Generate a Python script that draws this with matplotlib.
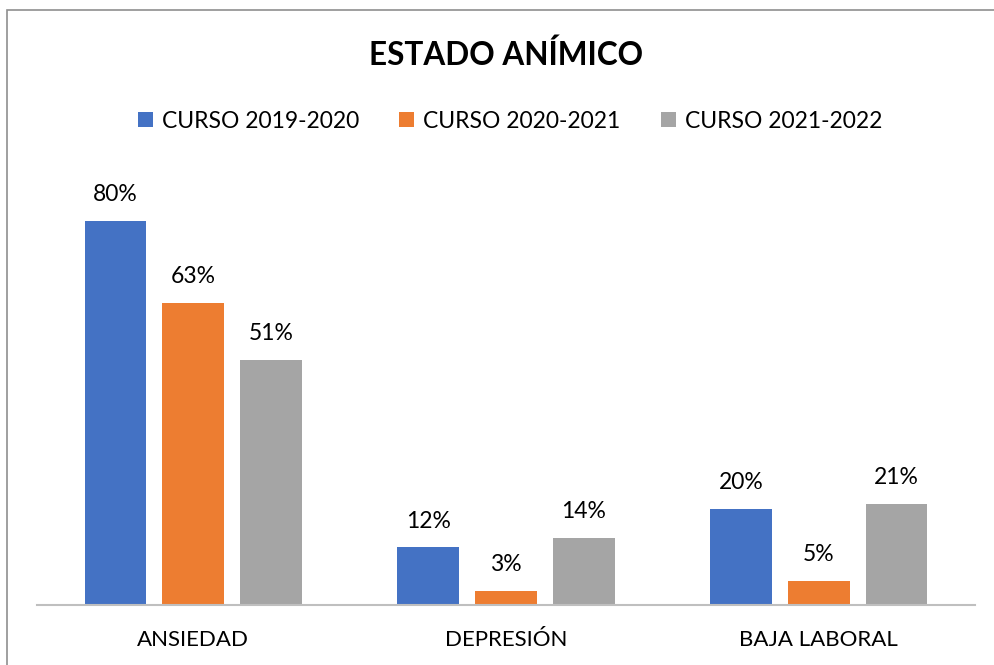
import numpy as np
import matplotlib.pyplot as plt
from matplotlib.patches import Rectangle

categories = ["ANSIEDAD", "DEPRESIÓN", "BAJA LABORAL"]
series_names = ["CURSO 2019-2020", "CURSO 2020-2021", "CURSO 2021-2022"]
curso_2019 = [80, 12, 20]
curso_2020 = [63, 3, 5]
curso_2021 = [51, 14, 21]
colors = ["#4472C4", "#ED7D31", "#A5A5A5"]

plt.rcParams['font.family'] = ['Lato', 'DejaVu Sans']

fig = plt.figure(figsize=(9.95, 6.65), dpi=100)

# chart frame (cut off at right/bottom like the screenshot)
fig.patches.append(Rectangle((7 / 995, -0.05), 1.0, 1 - 10 / 665 + 0.05,
                             transform=fig.transFigure, fill=False,
                             edgecolor="#8f8f8f", linewidth=1.2))

ax = fig.add_axes([37 / 995, 60 / 665, 938 / 995, 432 / 665])

x = np.arange(len(categories))
width = 0.198
step = 0.249
all_series = [curso_2019, curso_2020, curso_2021]
for i, (vals, name, c) in enumerate(zip(all_series, series_names, colors)):
    bars = ax.bar(x + (i - 1) * step, vals, width, color=c, label=name)
    for b, v in zip(bars, vals):
        ax.annotate(f"{v}%", (b.get_x() + b.get_width() / 2, v),
                    xytext=(0, 19), textcoords="offset points",
                    ha="center", va="center", fontsize=16.5, color="#000000")

ax.set_xlim(-0.5, 2.5)
ax.set_ylim(0, 90)
ax.set_yticks([])
ax.set_xticks(x)
ax.set_xticklabels(categories, fontsize=16)
ax.tick_params(axis="x", length=0, pad=18)
for s in ["top", "right", "left"]:
    ax.spines[s].set_visible(False)
ax.spines["bottom"].set_color("#bfbfbf")
ax.spines["bottom"].set_linewidth(1.5)

fig.text(506 / 995, 1 - 55 / 665, "ESTADO ANÍMICO", ha="center", va="center",
         fontsize=22.7, fontweight="bold")

fig.legend(loc="center", bbox_to_anchor=(510 / 995, 1 - 121 / 665), ncol=3,
           frameon=False, fontsize=16.5, handlelength=0.65, handleheight=0.65,
           handletextpad=0.4, columnspacing=1.75)

fig.savefig("out.png", dpi=100)
